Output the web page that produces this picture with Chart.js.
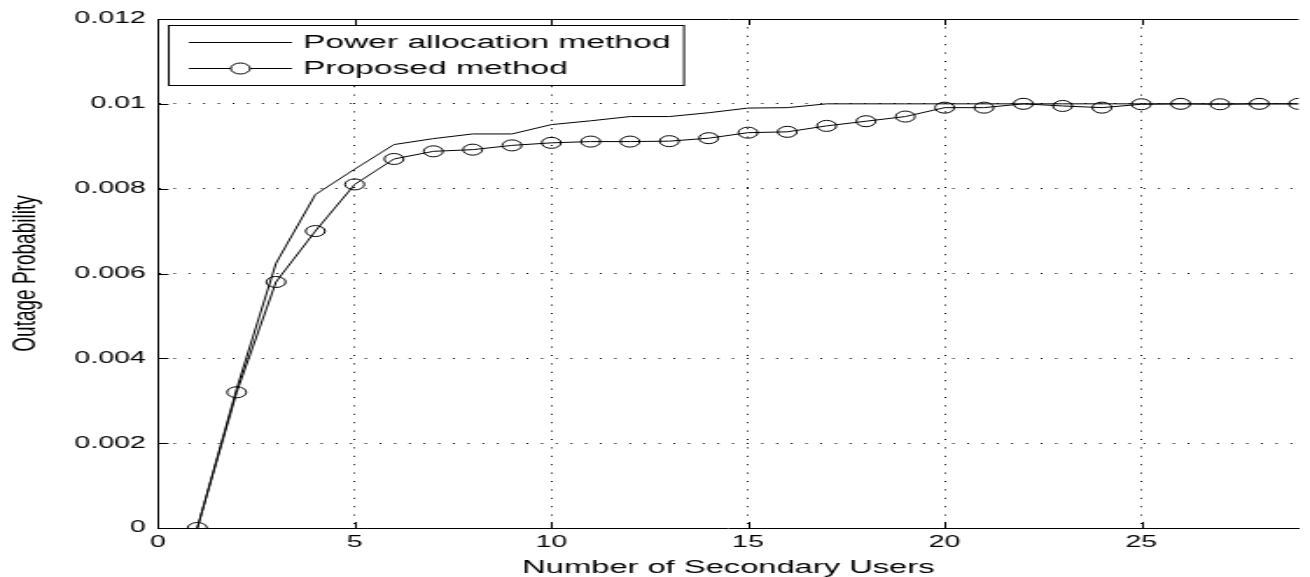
<!DOCTYPE html>
<html>
<head>
<meta charset="utf-8">
<title>Outage Probability</title>
<script src="https://cdn.jsdelivr.net/npm/chart.js@4/dist/chart.umd.min.js"></script>
<style>
  html, body { margin: 0; padding: 0; background: #fff; overflow: hidden; }
  #wrap { width: 1310px; height: 577px; overflow: hidden; }
  /* the figure is drawn narrow and stretched sideways */
  #chart { transform: scaleX(1.749); transform-origin: 0 0; display: block; }
</style>
</head>
<body>
<div id="wrap"><canvas id="chart" width="749" height="577"></canvas></div>
<script>
// number of secondary users
const users = [1, 2, 3, 4, 5, 6, 7, 8, 9, 10, 11, 12, 13, 14, 15, 16, 17, 18, 19, 20, 21, 22, 23, 24, 25, 26, 27, 28, 29];

const powerAllocation = [0, 0.00328, 0.00624, 0.00786, 0.00846, 0.00904, 0.00918, 0.00929, 0.00929, 0.00951,
  0.00960, 0.00970, 0.00970, 0.00979, 0.00990, 0.00991, 0.0100, 0.0100, 0.0100, 0.0100,
  0.0100, 0.0100, 0.0100, 0.0100, 0.0100, 0.0100, 0.0100, 0.0100, 0.0100];

const proposed = [0, 0.0032, 0.0058, 0.0070, 0.0081, 0.0087, 0.00888, 0.00892, 0.00902, 0.00908,
  0.00911, 0.00911, 0.00912, 0.00919, 0.00932, 0.00934, 0.00948, 0.00959, 0.00970, 0.00991,
  0.00991, 0.0100, 0.00995, 0.00991, 0.00999, 0.0100, 0.00999, 0.0100, 0.0100];

const seriesLabels = ['Power allocation method', 'Proposed method'];
const yTicks = [0, 0.002, 0.004, 0.006, 0.008, 0.01, 0.012];

const FONT = '"Liberation Sans", Arial, Helvetica, sans-serif';

function toPoints(ys) {
  return users.map((u, i) => ({ x: u, y: ys[i] }));
}

// inward tick marks on every side plus the top frame line
const frameTicks = {
  id: 'frameTicks',
  afterDatasetsDraw(chart) {
    const { ctx, chartArea } = chart;
    const xs = chart.scales.x, ys = chart.scales.y;
    const len = 6;
    ctx.save();
    ctx.strokeStyle = '#000';
    ctx.lineWidth = 1;
    ctx.beginPath();
    ctx.moveTo(chartArea.left, Math.round(chartArea.top) + 0.5);
    ctx.lineTo(chartArea.right, Math.round(chartArea.top) + 0.5);
    xs.ticks.forEach(t => {
      const px = Math.round(xs.getPixelForValue(t.value)) + 0.5;
      ctx.moveTo(px, chartArea.bottom);
      ctx.lineTo(px, chartArea.bottom - len);
      ctx.moveTo(px, chartArea.top);
      ctx.lineTo(px, chartArea.top + len);
    });
    ys.ticks.forEach(t => {
      const py = Math.round(ys.getPixelForValue(t.value)) + 0.5;
      ctx.moveTo(chartArea.left, py);
      ctx.lineTo(chartArea.left + len, py);
    });
    ctx.stroke();
    ctx.restore();
  }
};

// boxed legend in the upper left corner of the plot
const boxLegend = {
  id: 'boxLegend',
  afterDraw(chart) {
    const { ctx, chartArea } = chart;
    const x0 = chartArea.left + 5.6, y0 = chartArea.top + 6;
    const w = 294.6, h = 60;
    ctx.save();
    ctx.fillStyle = '#fff';
    ctx.fillRect(x0, y0, w, h);
    ctx.strokeStyle = '#000';
    ctx.lineWidth = 1;
    ctx.strokeRect(Math.round(x0) + 0.5, Math.round(y0) + 0.5, w, h);
    ctx.font = '19.2px ' + FONT;
    ctx.textBaseline = 'middle';
    ctx.fillStyle = '#000';
    chart.data.datasets.forEach((ds, i) => {
      const y = y0 + 17.5 + i * 26;
      ctx.beginPath();
      ctx.moveTo(x0 + 12, y);
      ctx.lineTo(x0 + 71, y);
      ctx.stroke();
      if (ds.pointRadius > 0) {
        ctx.beginPath();
        ctx.arc(x0 + 41.5, y, ds.pointRadius, 0, Math.PI * 2);
        ctx.fillStyle = '#fff';
        ctx.fill();
        ctx.stroke();
        ctx.fillStyle = '#000';
      }
      ctx.fillText(ds.label, x0 + 77.3, y);
    });
    ctx.restore();
  }
};

const edgeTransparent = (max) => (c) => {
  const v = c.tick ? c.tick.value : null;
  return (v === 0 || v === max) ? 'rgba(0,0,0,0)' : '#000';
};

new Chart(document.getElementById('chart'), {
  type: 'line',
  data: {
    datasets: [
      {
        label: seriesLabels[0],
        data: toPoints(powerAllocation),
        borderColor: '#000',
        borderWidth: 1,
        pointRadius: 0,
        fill: false,
        tension: 0
      },
      {
        label: seriesLabels[1],
        data: toPoints(proposed),
        borderColor: '#000',
        borderWidth: 1,
        pointRadius: 5.5,
        pointStyle: 'circle',
        pointBorderColor: '#000',
        pointBackgroundColor: 'rgba(0,0,0,0)',
        pointBorderWidth: 1,
        fill: false,
        tension: 0
      }
    ]
  },
  options: {
    responsive: false,
    animation: false,
    events: [],
    layout: { padding: { top: 19, right: 0, bottom: 0, left: 0 } },
    plugins: {
      legend: { display: false },
      tooltip: { enabled: false }
    },
    scales: {
      x: {
        type: 'linear',
        min: 0,
        max: 29,
        afterFit: (s) => { s.height = 49; },
        ticks: {
          stepSize: 5,
          includeBounds: false,
          padding: 5,
          color: '#000',
          maxRotation: 0,
          font: { family: FONT, size: 16.3, lineHeight: 1.2 }
        },
        grid: {
          drawTicks: false,
          lineWidth: 1,
          color: edgeTransparent(29)
        },
        border: { display: true, color: '#000', width: 1, dash: [1, 7.4] },
        title: {
          display: true,
          text: 'Number of Secondary Users',
          color: '#000',
          padding: { top: 0, bottom: 0 },
          font: { family: FONT, size: 18.7, lineHeight: 1 }
        }
      },
      y: {
        min: 0,
        max: 0.012,
        afterFit: (s) => { s.width = 90.33; },
        afterBuildTicks: (s) => { s.ticks = yTicks.map(v => ({ value: v })); },
        ticks: {
          padding: 7,
          color: '#000',
          font: { family: FONT, size: 16.3, lineHeight: 1.2 },
          callback: (v) => v === 0 ? '0' : String(+Number(v).toFixed(3))
        },
        grid: {
          drawTicks: false,
          lineWidth: 1,
          color: edgeTransparent(0.012)
        },
        border: { display: true, color: '#000', width: 1, dash: [1, 7.4] },
        title: {
          display: true,
          text: 'Outage Probability',
          color: '#000',
          padding: { top: 3, bottom: 0 },
          font: { family: FONT, size: 19, lineHeight: 1.2 }
        }
      }
    }
  },
  plugins: [frameTicks, boxLegend]
});
</script>
</body>
</html>
